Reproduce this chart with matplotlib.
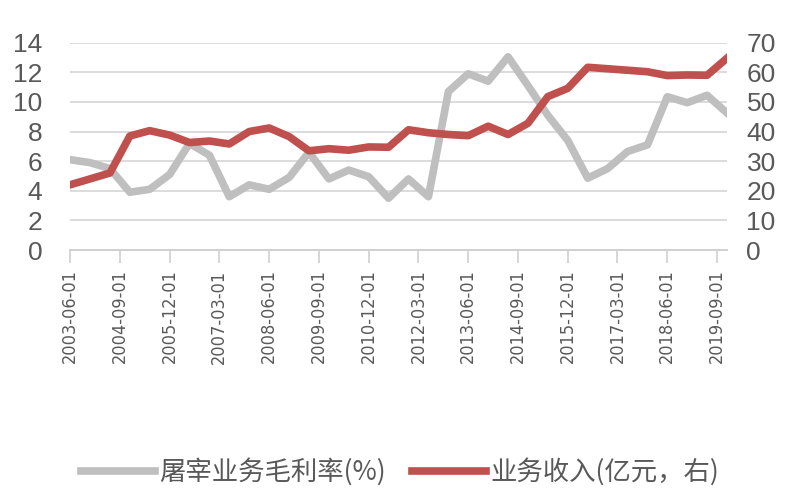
import numpy as np
import pandas as pd
import matplotlib
matplotlib.use("Agg")
import matplotlib.pyplot as plt

# half-yearly readings, 2003-06 .. 2019-12
dates = pd.date_range("2003-06-01", periods=34, freq="6MS")
margin = [6.1, 5.9, 5.5, 3.9, 4.1, 5.1, 7.2, 6.4, 3.6, 4.4,
          4.1, 4.9, 6.6, 4.8, 5.4, 4.95, 3.5, 4.8, 3.6, 10.7,
          11.9, 11.4, 13.05, 11.1, 9.1, 7.4, 4.85, 5.5, 6.65, 7.1,
          10.35, 9.95, 10.45, 9.25]
revenue = [22, 24, 26, 38.5, 40.3, 38.8, 36.3, 36.8, 35.8, 40,
           41.2, 38.3, 33.5, 34.2, 33.7, 34.8, 34.7, 40.6, 39.6, 39,
           38.6, 41.8, 39, 42.8, 51.8, 54.6, 61.7, 61.2, 60.7, 60.2,
           58.9, 59.1, 59, 64.8]
tick_labels = ["2003-06-01", "2004-09-01", "2005-12-01", "2007-03-01",
               "2008-06-01", "2009-09-01", "2010-12-01", "2012-03-01",
               "2013-06-01", "2014-09-01", "2015-12-01", "2017-03-01",
               "2018-06-01", "2019-09-01"]
label_margin = "屠宰业务毛利率(%)"
label_revenue = "业务收入(亿元，右)"

grey = "#BFBFBF"
red = "#C0504D"
txt = "#595959"
tick_font = ["Liberation Sans", "DejaVu Sans"]
cjk_font = ["Noto Sans CJK SC", "DejaVu Sans"]

fig = plt.figure(figsize=(8, 5), dpi=100)
ax = fig.add_axes([0.0875, 0.5, 0.8213, 0.4146])
ax2 = ax.twinx()

l1, = ax.plot(dates, margin, color=grey, lw=5.5, solid_joinstyle="round")
l2, = ax2.plot(dates, revenue, color=red, lw=5.5, solid_joinstyle="round")

ax.set_ylim(0, 14)
ax2.set_ylim(0, 70)
ax.set_yticks(np.arange(0, 15, 2))
ax2.set_yticks(np.arange(0, 71, 10))
ax.set_xlim(dates[0], dates[-1])
ax.grid(axis="y", color="#D9D9D9", lw=1.3)
ax.set_axisbelow(True)

ticks = pd.to_datetime(tick_labels)
ax.set_xticks(ticks)
ax.set_xticklabels(tick_labels, rotation=90, fontsize=13,
                   family="DejaVu Sans", stretch="condensed", color=txt)
ax.tick_params(axis="x", length=9, color="#D0D0D0", width=1.2, pad=5)
ax.tick_params(axis="y", length=0, pad=20)
ax2.tick_params(axis="y", length=0, pad=14)
for lab in ax.get_yticklabels() + ax2.get_yticklabels():
    lab.set_fontsize(19)
    lab.set_family(tick_font)
    lab.set_color(txt)

for a in (ax, ax2):
    for s in ("left", "right", "top"):
        a.spines[s].set_visible(False)
    a.spines["bottom"].set_color("#D0D0D0")
    a.spines["bottom"].set_linewidth(1.2)

fig.legend([l1, l2], [label_margin, label_revenue], loc="center",
           bbox_to_anchor=(0.5, 0.056), ncol=2, frameon=False,
           handlelength=2.8, handletextpad=0.15, columnspacing=1.0,
           prop={"family": cjk_font, "size": 19}, labelcolor=txt)

fig.savefig("out.png", dpi=100)
